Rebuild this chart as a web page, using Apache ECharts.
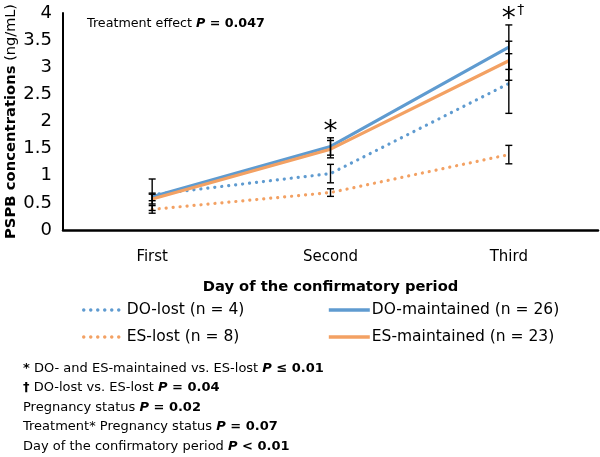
<!DOCTYPE html>
<html><head><meta charset="utf-8">
<script src="https://cdn.jsdelivr.net/npm/echarts@6/dist/echarts.min.js"></script>
<style>html,body{margin:0;padding:0;background:#fff}#c{width:600px;height:457px}</style>
</head><body><div id="c"></div>
<script>
// ---- data ----
const categories = ['First', 'Second', 'Third'];
const seriesNames = ['DO-lost (n = 4)', 'DO-maintained (n = 26)', 'ES-lost (n = 8)', 'ES-maintained (n = 23)'];
const doLost = [0.65, 1.04, 2.70];
const doLostErr = [0.29, 0.17, 0.55];
const doMaint = [0.61, 1.54, 3.37];
const doMaintErr = [0.07, 0.16, 0.41];
const esLost = [0.38, 0.69, 1.39];
const esLostErr = [0.07, 0.07, 0.17];
const esMaint = [0.57, 1.49, 3.12];
const esMaintErr = [0.09, 0.16, 0.36];
const sigStar = ['', '*', '*'];
const sigDagger = ['', '', '†'];
const treatmentNote = ['Treatment effect ', 'P', ' = 0.047'];
const notes = [
  ['*', ' DO- and ES-maintained vs. ES-lost ', 'P', ' ≤ 0.01'],
  ['†', ' DO-lost vs. ES-lost ', 'P', ' = 0.04'],
  ['', 'Pregnancy status ', 'P', ' = 0.02'],
  ['', 'Treatment* Pregnancy status ', 'P', ' = 0.07'],
  ['', 'Day of the confirmatory period ', 'P', ' < 0.01']
];

// ---- styles ----
const FONT = 'DejaVu Sans';
const BLUE = '#5F9BD0';
const ORANGE = '#F3A163';
const DOTS = [0.1, 6.9];

const groups = [
  {name: seriesNames[0], v: doLost, e: doLostErr, color: BLUE, dotted: true},
  {name: seriesNames[1], v: doMaint, e: doMaintErr, color: BLUE, dotted: false},
  {name: seriesNames[2], v: esLost, e: esLostErr, color: ORANGE, dotted: true},
  {name: seriesNames[3], v: esMaint, e: esMaintErr, color: ORANGE, dotted: false}
];

const lineSeries = groups.map(g => ({
  name: g.name, type: 'line', data: g.v, symbol: 'none', silent: true,
  z: g.dotted ? 3 : 4,
  itemStyle: {color: g.color},
  lineStyle: g.dotted
    ? {color: g.color, width: 3.2, type: DOTS, cap: 'round'}
    : {color: g.color, width: 3.2}
}));

const errData = [];
groups.forEach(g => g.v.forEach((val, i) => errData.push([i, val, g.e[i]])));

const sigData = [];
categories.forEach((c, i) => {
  if (sigStar[i] || sigDagger[i]) {
    const top = Math.max(...groups.map(g => g.v[i] + g.e[i]));
    sigData.push([i, top, sigStar[i], sigDagger[i]]);
  }
});

const errSeries = {
  type: 'custom', data: errData, z: 10, silent: true, clip: false,
  renderItem(params, api) {
    const x = api.value(0), v = api.value(1), e = api.value(2);
    const t = api.coord([x, v + e]), b = api.coord([x, v - e]);
    const hw = 3.5, st = {stroke: '#000', lineWidth: 1.4};
    return {type: 'group', children: [
      {type: 'line', shape: {x1: t[0], y1: t[1], x2: b[0], y2: b[1]}, style: st},
      {type: 'line', shape: {x1: t[0] - hw, y1: t[1], x2: t[0] + hw, y2: t[1]}, style: st},
      {type: 'line', shape: {x1: b[0] - hw, y1: b[1], x2: b[0] + hw, y2: b[1]}, style: st}
    ]};
  }
};

const sigSeries = {
  type: 'custom', data: sigData, z: 11, silent: true, clip: false,
  dimensions: ['x', 'y', 'star', 'dagger'],
  encode: {x: 0, y: 1},
  renderItem(params, api) {
    const d = sigData[params.dataIndex];
    const p = api.coord([d[0], d[1]]);
    const children = [];
    if (d[2]) children.push({type: 'text', x: p[0], y: p[1] - 5, style: {
      text: d[2], fontFamily: FONT, fontSize: 28, fill: '#000', align: 'center', verticalAlign: 'middle'}});
    if (d[3]) children.push({type: 'text', x: p[0] + 12, y: p[1] - 15, style: {
      text: d[3], fontFamily: FONT, fontSize: 14, fill: '#000', align: 'center', verticalAlign: 'middle'}});
    return {type: 'group', children};
  }
};

const richBase = {
  n: {fontFamily: FONT, fontSize: 13, color: '#000'},
  p: {fontFamily: FONT, fontSize: 13, fontWeight: 'bold', fontStyle: 'italic', color: '#000'},
  b: {fontFamily: FONT, fontSize: 13, fontWeight: 'bold', color: '#000'}
};

const graphics = [];
graphics.push({type: 'text', left: 87, top: 17, style: {
  text: '{n|' + treatmentNote[0] + '}{p|' + treatmentNote[1] + '}{b|' + treatmentNote[2] + '}',
  rich: {
    n: Object.assign({}, richBase.n, {fontSize: 12.7}),
    p: Object.assign({}, richBase.p, {fontSize: 12.7}),
    b: Object.assign({}, richBase.b, {fontSize: 12.7})
  }}});
notes.forEach((nt, i) => {
  graphics.push({type: 'text', left: 23, top: 362 + i * 19.5, style: {
    text: (nt[0] ? '{b|' + nt[0] + '}' : '') + '{n|' + nt[1] + '}{p|' + nt[2] + '}{b|' + nt[3] + '}',
    rich: richBase}});
});

const legendText = {fontFamily: FONT, fontSize: 15.5, color: '#000', lineHeight: 18};

const option = {
  animation: false,
  backgroundColor: '#fff',
  grid: {left: 63, right: 2, top: 13, bottom: 227, containLabel: false, outerBoundsMode: 'none'},
  legend: [
    {data: [seriesNames[0], seriesNames[2]], orient: 'vertical', left: 82, top: 301, padding: 0,
      itemWidth: 38, itemHeight: 14, itemGap: 9, selectedMode: false,
      itemStyle: {opacity: 0}, lineStyle: {width: 3.4, type: DOTS, cap: 'round'},
      textStyle: Object.assign({padding: [0, 0, 0, 0]}, legendText)},
    {data: [seriesNames[1], seriesNames[3]], orient: 'vertical', left: 327, top: 301, padding: 0,
      itemWidth: 41, itemHeight: 14, itemGap: 9, selectedMode: false,
      itemStyle: {opacity: 0}, lineStyle: {width: 3.6},
      textStyle: Object.assign({padding: [0, 0, 0, -3]}, legendText)}
  ],
  xAxis: {
    type: 'category', data: categories, boundaryGap: true,
    axisLine: {lineStyle: {color: '#000', width: 2.5}},
    axisTick: {show: false},
    axisLabel: {fontFamily: FONT, fontSize: 15, color: '#000', margin: 20},
    name: 'Day of the confirmatory period', nameLocation: 'middle', nameGap: 50,
    nameTextStyle: {fontFamily: FONT, fontSize: 14.7, fontWeight: 'bold', color: '#000'}
  },
  yAxis: {
    type: 'value', min: 0, max: 4, interval: 0.5,
    axisLine: {show: true, lineStyle: {color: '#000', width: 2}},
    axisTick: {show: false},
    splitLine: {show: false},
    axisLabel: {fontFamily: FONT, fontSize: 18, color: '#000', margin: 11},
    name: '{b|PSPB concentrations}{n| (ng/mL)}', nameLocation: 'middle', nameGap: 44, nameRotate: 90,
    nameMoveOverlap: false,
    nameTextStyle: {rich: {
      b: {fontFamily: FONT, fontSize: 14.8, fontWeight: 'bold', color: '#000'},
      n: {fontFamily: FONT, fontSize: 14.5, color: '#000'}
    }}
  },
  series: [...lineSeries, errSeries, sigSeries],
  graphic: graphics
};

const chart = echarts.init(document.getElementById('c'), null, {renderer: 'canvas'});
chart.setOption(option);
</script></body></html>
